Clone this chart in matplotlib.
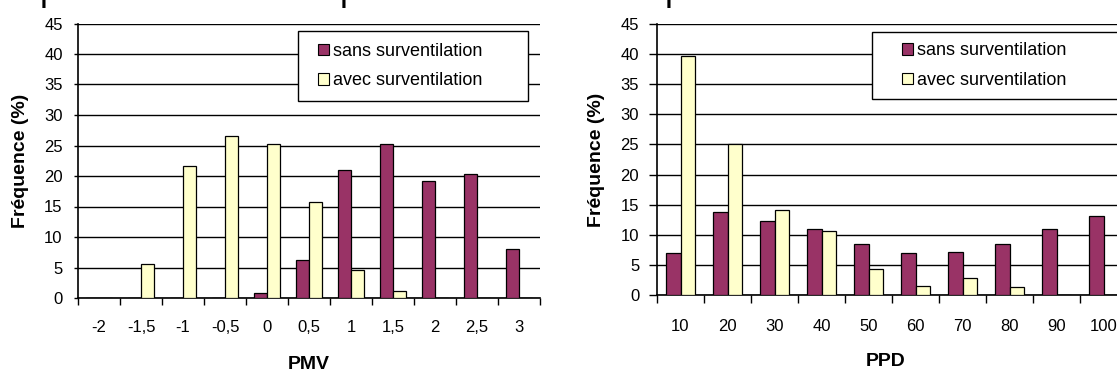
import matplotlib
matplotlib.use("Agg")
import matplotlib.pyplot as plt
from matplotlib.patches import Rectangle
from matplotlib.ticker import FixedLocator, NullFormatter
import numpy as np

plt.rcParams['font.family'] = ['Liberation Sans', 'DejaVu Sans']

# ---- data ----
pmv_labels = ["-2", "-1,5", "-1", "-0,5", "0", "0,5", "1", "1,5", "2", "2,5", "3"]
pmv_sans = [0, 0, 0, 0, 0.9, 6.2, 21.0, 25.3, 19.1, 20.4, 8.1]
pmv_avec = [0, 5.5, 21.6, 26.6, 25.3, 15.8, 4.6, 1.2, 0, 0, 0]

ppd_labels = ["10", "20", "30", "40", "50", "60", "70", "80", "90", "100"]
ppd_sans = [6.9, 13.7, 12.3, 11.0, 8.4, 6.9, 7.2, 8.4, 11.0, 13.1]
ppd_avec = [39.7, 25.0, 14.1, 10.6, 4.4, 1.5, 2.8, 1.3, 0, 0]

series_names = ["sans surventilation", "avec surventilation"]
yticks = [0, 5, 10, 15, 20, 25, 30, 35, 40, 45]

DARK = "#993366"
LIGHT = "#FFFFCC"

W, H = 1117, 373
fig = plt.figure(figsize=(W / 100, H / 100), dpi=100)


def px(x0, y_top, x1, y_bot):
    return [x0 / W, 1 - y_bot / H, (x1 - x0) / W, (y_bot - y_top) / H]


def draw(ax, labels, sans, avec, xlabel, ytick_len, ytick_pad, xtick_len,
         xtick_pad, xlab_xy, ylab_xy):
    n = len(labels)
    x = np.arange(n)
    w = 0.31
    ax.set_axisbelow(True)
    ax.yaxis.grid(True, color="black", linewidth=1.0)
    ax.bar(x - w / 2, sans, width=w, color=DARK, edgecolor="black",
           linewidth=0.9, zorder=3)
    ax.bar(x + w / 2, avec, width=w, color=LIGHT, edgecolor="black",
           linewidth=0.9, zorder=3)
    ax.set_xlim(-0.5, n - 0.5)
    ax.set_ylim(0, 45)
    ax.set_yticks(yticks)
    ax.set_yticklabels([str(v) for v in yticks])
    ax.set_xticks(x)
    ax.set_xticklabels(labels)
    ax.xaxis.set_minor_locator(FixedLocator(np.arange(n + 1) - 0.5))
    ax.xaxis.set_minor_formatter(NullFormatter())
    ax.tick_params(axis="x", which="major", length=0, pad=xtick_pad,
                   labelsize=12, colors="black")
    ax.tick_params(axis="x", which="minor", length=xtick_len, width=1.0,
                   direction="out", color="black")
    ax.tick_params(axis="y", length=ytick_len, width=1.0, pad=ytick_pad,
                   labelsize=12, colors="black")
    for s in ["top", "right"]:
        ax.spines[s].set_visible(False)
    for s in ["left", "bottom"]:
        ax.spines[s].set_color("black")
        ax.spines[s].set_linewidth(1.2)
    ax.set_xlabel(xlabel, fontsize=14, fontweight="bold")
    ax.xaxis.set_label_coords(*xlab_xy)
    ax.xaxis.label.set_va("center")
    ax.set_ylabel("Fréquence (%)", fontsize=14, fontweight="bold")
    ax.yaxis.set_label_coords(*ylab_xy)
    ax.yaxis.label.set_va("center")
    ax.patch.set_alpha(0)


ax1 = fig.add_axes(px(78, 23.5, 540, 298))
draw(ax1, pmv_labels, pmv_sans, pmv_avec, "PMV", 3.0, 8, 5, 16,
     (0.5, -0.244), (-0.125, 0.5))

ax2 = fig.add_axes(px(657, 24, 1127, 295))
draw(ax2, ppd_labels, ppd_sans, ppd_avec, "PPD", 5.8, 7, 5.5, 17,
     (0.487, -0.247), (-0.128, 0.5))


def legend_box(x0, y0, x1, y1, x_text):
    fig.add_artist(Rectangle((x0 / W, 1 - y1 / H), (x1 - x0) / W, (y1 - y0) / H,
                             transform=fig.transFigure, facecolor="white",
                             edgecolor="black", linewidth=1.0, zorder=4))
    handles = [Rectangle((0, 0), 1, 1, facecolor=DARK, edgecolor="black", linewidth=0.8),
               Rectangle((0, 0), 1, 1, facecolor=LIGHT, edgecolor="black", linewidth=0.8)]
    leg = fig.legend(handles, series_names, loc="center left",
                     bbox_to_anchor=(x_text / W, 1 - ((y0 + y1) / 2) / H),
                     bbox_transform=fig.transFigure, frameon=False,
                     fontsize=13, handlelength=0.6, handleheight=0.6,
                     handletextpad=0.25, labelspacing=0.7, borderpad=0,
                     borderaxespad=0)
    leg.set_zorder(5)


legend_box(298, 31, 528, 101, 318)
legend_box(872, 32, 1130, 99, 902)

# cropped descenders of text above the figure (cut off in the reference too)
for xp in [50, 350, 675]:
    fig.text(xp / W, 1.0, "p", fontsize=26, ha="center", va="baseline",
             color="black")

fig.savefig("out.png", dpi=100, facecolor="white")
